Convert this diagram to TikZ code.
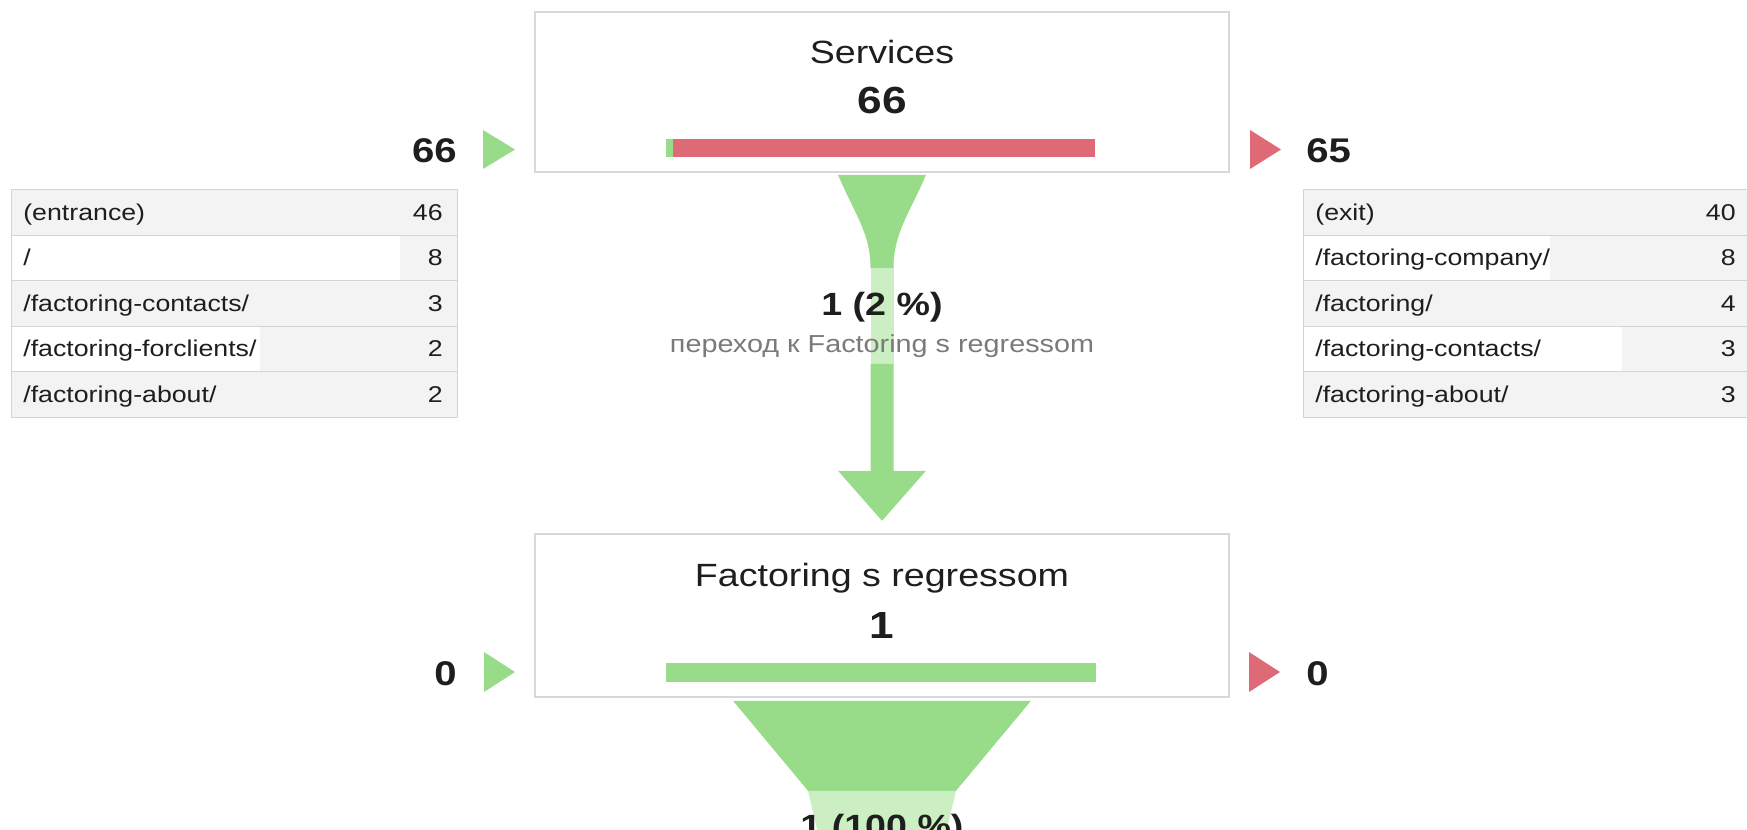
\documentclass[tikz,border=0pt]{standalone}
\usepackage{fontspec}
\setmainfont{Liberation Sans}[FakeStretch=1.17]
\usepackage{tikz}
\definecolor{flowgreen}{HTML}{98DC8A}
\definecolor{lightgreen}{HTML}{CBEFC2}
\definecolor{exitred}{HTML}{DE6A78}
\definecolor{boxline}{HTML}{D8D8D8}
\definecolor{rowgray}{HTML}{F3F3F3}
\definecolor{linegray}{HTML}{D4D4D4}
\definecolor{subgray}{HTML}{7A7A7A}
\definecolor{ink}{HTML}{1E1E1E}
\tikzset{part/.style={fill=white,
    path picture={\fill[rowgray] ([xshift=#1]path picture bounding box.north west)
        rectangle (path picture bounding box.south east);}}}

\begin{document}
\begin{tikzpicture}[x=0.02cm,y=-0.02cm]
\useasboundingbox (0,0) rectangle (1747,829);
\clip (0,0) rectangle (1747,829);

\begin{scope}[every node/.style={draw=boxline,line width=0.9pt,fill=white,minimum width=13.88cm,inner sep=0}]
    \node (S)[minimum height=3.2cm] at (882,92) {};
    \node (F)[minimum height=3.26cm] at (882,615.5) {};
\end{scope}

% bars and arrows at the sides
\fill[flowgreen] (666,139) rectangle (673,157);
\fill[exitred] (673,139) rectangle (1095,157);
\fill[flowgreen] (666,663) rectangle (1096,682);
\fill[flowgreen] (483,130) -- (483,169) -- (515,149.5) -- cycle;
\fill[exitred] (1250,130) -- (1250,169) -- (1281,149.5) -- cycle;
\fill[flowgreen] (484,652) -- (484,692) -- (515,672) -- cycle;
\fill[exitred] (1249,652) -- (1249,692) -- (1280,672) -- cycle;

% flow from S to F
\begin{scope}[shift={(S.south)}]
    \fill[flowgreen] (-44,2) .. controls (-28,40) and (-11.5,60) .. (-11.5,95)
        -- (11.5,95) .. controls (11.5,60) and (28,40) .. (44,2) -- cycle;
    \fill[lightgreen] (-11.5,95) rectangle (11.5,191);
    \fill[flowgreen] (-11.5,191) -- (-11.5,298) -- (-44,298) -- (0,348)
        -- (44,298) -- (11.5,298) -- (11.5,191) -- cycle;
\end{scope}
\begin{scope}[shift={(F.south)}]
    \fill[flowgreen] (-149,3) -- (-74,93) -- (74,93) -- (149,3) -- cycle;
    \fill[lightgreen] (-74,93) -- (-63,140) -- (63,140) -- (74,93) -- cycle;
\end{scope}

\begin{scope}[every node/.style={anchor=base,inner sep=0,text=ink}]
    \node (St)[font=\fontsize{18.3}{20}\selectfont] at (882,63) {Services};
    \node (Sc)[font=\fontsize{21.5}{24}\selectfont\bfseries] at (882,113) {66};
    \node (Ft)[font=\fontsize{18.3}{20}\selectfont] at (882,586) {Factoring s regressom};
    \node (Fc)[font=\fontsize{21.5}{24}\selectfont\bfseries] at (882,638) {1};
    \node (P1)[font=\fontsize{18.3}{20}\selectfont\bfseries] at (882,315) {1 (2 \%)};
    \node (P1s)[font=\fontsize{14}{16}\selectfont,text=subgray] at (882,352) {переход к Factoring s regressom};
    \node (P2)[font=\fontsize{18.3}{20}\selectfont\bfseries] at (882,837) {1 (100 \%)};
\end{scope}

\begin{scope}[every node/.style={inner sep=0,text=ink,font=\fontsize{19.5}{22}\selectfont\bfseries}]
    \node (Sin)[anchor=base east] at (457,162) {66};
    \node (Sout)[anchor=base west] at (1306,162) {65};
    \node (Fin)[anchor=base east] at (457,685) {0};
    \node (Fout)[anchor=base west] at (1306,685) {0};
\end{scope}

% tables
\begin{scope}[every node/.style={draw=linegray,line width=0.6pt,fill=rowgray,minimum height=0.912cm,inner sep=0,anchor=north west}]
    \node (L1)[minimum width=8.92cm] at (11,189) {};
    \node (L2)[minimum width=8.92cm,part=7.78cm] at (11,234.6) {};
    \node (L3)[minimum width=8.92cm] at (11,280.2) {};
    \node (L4)[minimum width=8.92cm,part=4.98cm] at (11,325.8) {};
    \node (L5)[minimum width=8.92cm] at (11,371.4) {};
    \node (R1)[minimum width=9.3cm] at (1303,189) {};
    \node (R2)[minimum width=9.3cm,part=4.92cm] at (1303,234.6) {};
    \node (R3)[minimum width=9.3cm] at (1303,280.2) {};
    \node (R4)[minimum width=9.3cm,part=6.38cm] at (1303,325.8) {};
    \node (R5)[minimum width=9.3cm] at (1303,371.4) {};
\end{scope}

\begin{scope}[every node/.style={inner sep=0,text=ink,font=\fontsize{13}{15}\selectfont}]
    \node (L1a)[anchor=base west] at (23,220) {(entrance)};
    \node (L1b)[anchor=base east] at (443,220) {46};
    \node (L2a)[anchor=base west] at (23,265.4) {/};
    \node (L2b)[anchor=base east] at (443,265.4) {8};
    \node (L3a)[anchor=base west] at (23,311) {/factoring-contacts/};
    \node (L3b)[anchor=base east] at (443,311) {3};
    \node (L4a)[anchor=base west] at (23,356.6) {/factoring-forclients/};
    \node (L4b)[anchor=base east] at (443,356.6) {2};
    \node (L5a)[anchor=base west] at (23,402.2) {/factoring-about/};
    \node (L5b)[anchor=base east] at (443,402.2) {2};
    \node (R1a)[anchor=base west] at (1315,220) {(exit)};
    \node (R1b)[anchor=base east] at (1736,220) {40};
    \node (R2a)[anchor=base west] at (1315,265.4) {/factoring-company/};
    \node (R2b)[anchor=base east] at (1736,265.4) {8};
    \node (R3a)[anchor=base west] at (1315,311) {/factoring/};
    \node (R3b)[anchor=base east] at (1736,311) {4};
    \node (R4a)[anchor=base west] at (1315,356.6) {/factoring-contacts/};
    \node (R4b)[anchor=base east] at (1736,356.6) {3};
    \node (R5a)[anchor=base west] at (1315,402.2) {/factoring-about/};
    \node (R5b)[anchor=base east] at (1736,402.2) {3};
\end{scope}
\end{tikzpicture}
\end{document}
